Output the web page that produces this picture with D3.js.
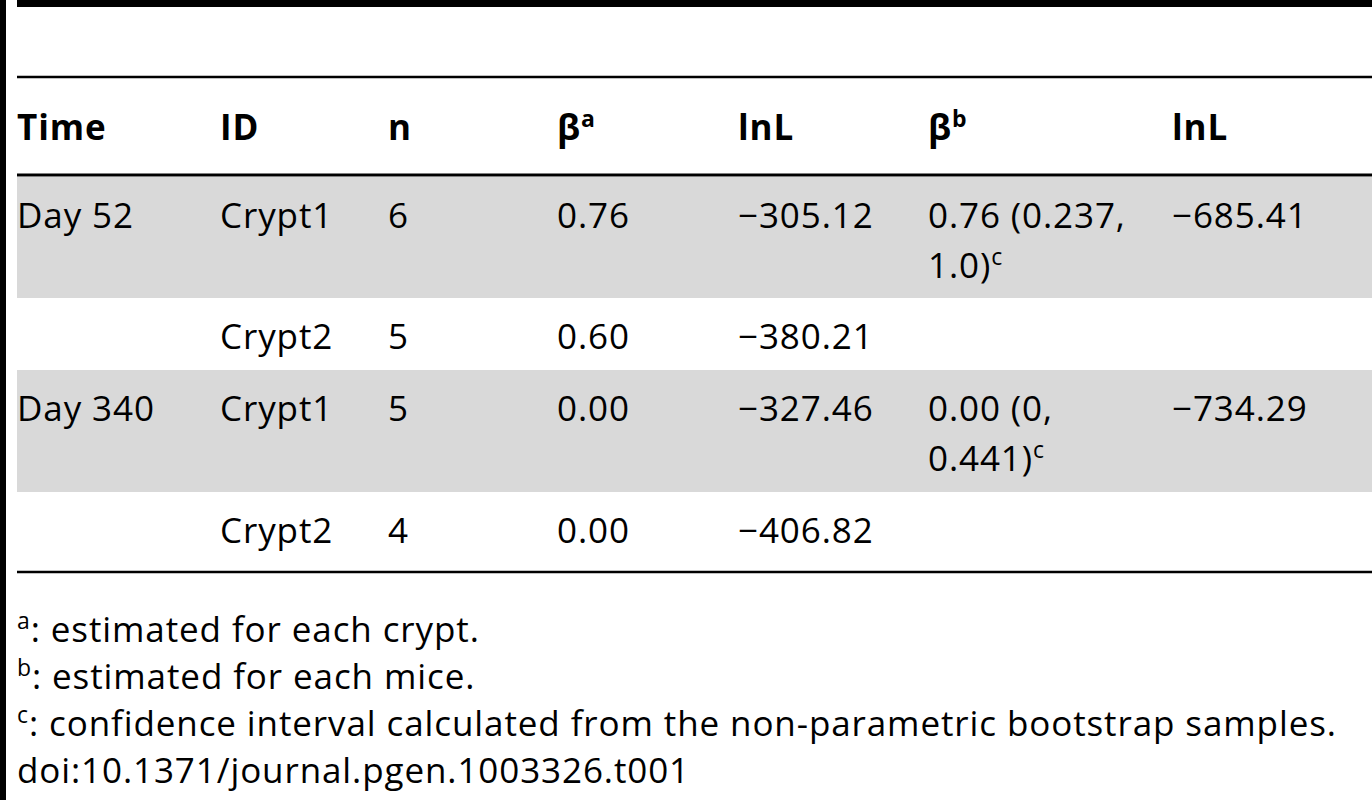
<!DOCTYPE html><html><head><meta charset="utf-8"><script src="https://cdn.jsdelivr.net/npm/d3@7"></script>
<style>body{margin:0;background:#fff}</style></head><body><svg id="s" width="1372" height="800"></svg>
<script>
const headers=["Time","ID","n","β|a","lnL","β|b","lnL"];
const times=["Day 52","","Day 340",""];
const ids=["Crypt1","Crypt2","Crypt1","Crypt2"];
const ns=["6","5","5","4"];
const betaA=["0.76","0.60","0.00","0.00"];
const lnLA=["−305.12","−380.21","−327.46","−406.82"];
const betaB=[["0.76 (0.237,","1.0)|c"],[],["0.00 (0,","0.441)|c"],[]];
const lnLB=["−685.41","","−734.29",""];
const notes=["a|: estimated for each crypt.","b|: estimated for each mice.","c|: confidence interval calculated from the non-parametric bootstrap samples.","|doi:10.1371/journal.pgen.1003326.t001"];
const colX=[17,220,388,557,738,928,1172];
const rowTop=[177,298,370,492,572];
const svg=d3.select("#s");
const F="'Open Sans', sans-serif";
rowTop.slice(0,4).forEach((t,i)=>{ if(i%2===0) svg.append("rect").attr("x",17).attr("y",t).attr("width",1355).attr("height",rowTop[i+1]-t).attr("fill","#d9d9d9");});
svg.append("rect").attr("x",0).attr("y",0).attr("width",6).attr("height",800).attr("fill","#000");
svg.append("rect").attr("x",17).attr("y",0).attr("width",1355).attr("height",7).attr("fill","#000");
[[77,2.5],[175,3],[572,2.5]].forEach(([y,w])=>svg.append("line").attr("x1",17).attr("x2",1372).attr("y1",y).attr("y2",y).attr("stroke","#000").attr("stroke-width",w));
function txt(x,y,s,bold,anchorSup){
  const [main,sup]=s.includes("|")?s.split("|"):[s,null];
  const t=svg.append("text").attr("x",x).attr("y",y).attr("font-family",F).attr("font-size",35).attr("letter-spacing",0.9).attr("font-weight",bold?700:400).attr("fill","#000");
  if(anchorSup){
    if(main) t.append("tspan").attr("font-size",23).attr("dy",-13).text(main);
    t.append("tspan").attr("dy",main?13:0).text(sup);
  } else {
    t.append("tspan").text(main);
    if(sup) t.append("tspan").attr("font-size",23).attr("dy",-13).text(sup);
  }
}
headers.forEach((h,i)=>txt(colX[i],140,h,true));
for(let r=0;r<4;r++){
  const y=rowTop[r]+51;
  [times[r],ids[r],ns[r],betaA[r],lnLA[r]].forEach((v,c)=>{if(v)txt(colX[c],y,v)});
  betaB[r].forEach((v,k)=>txt(colX[5],y+50*k,v));
  if(lnLB[r])txt(colX[6],y,lnLB[r]);
}
notes.forEach((n,i)=>txt(17,642+47*i,n,false,true));
</script></body></html>
